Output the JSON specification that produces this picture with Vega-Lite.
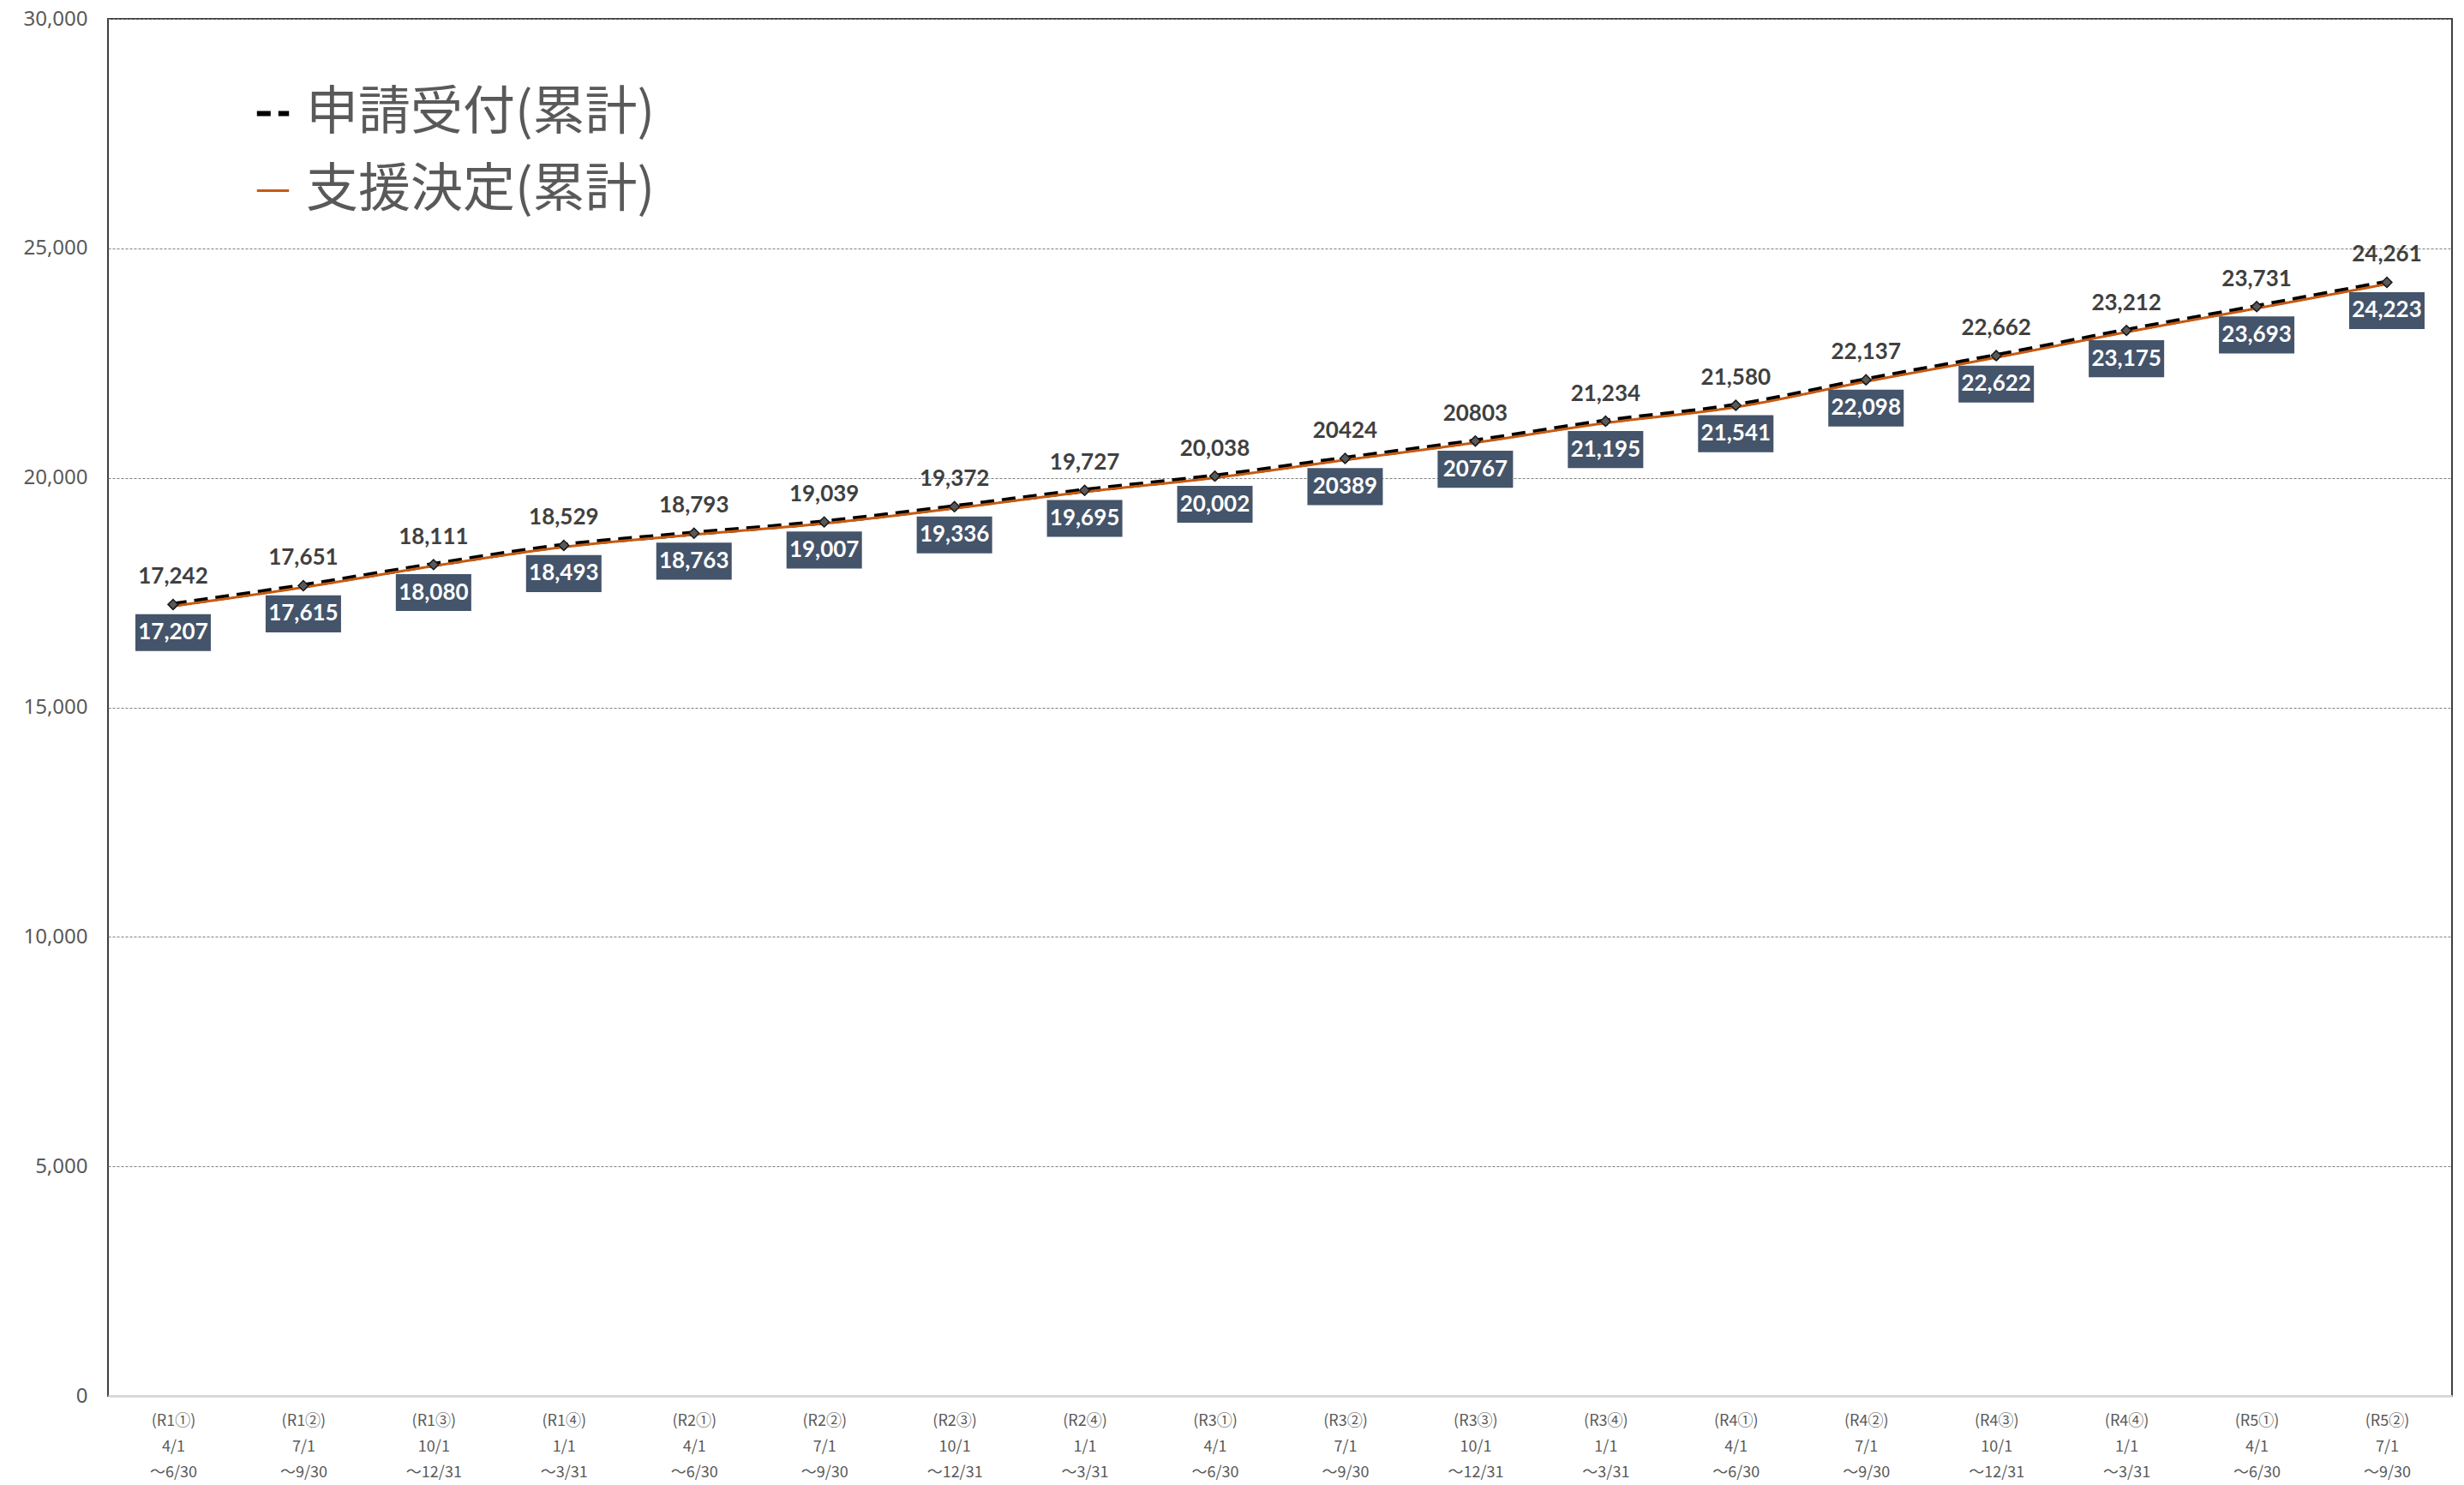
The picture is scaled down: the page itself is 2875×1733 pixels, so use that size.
{
  "$schema": "https://vega.github.io/schema/vega-lite/v6.json",
  "width": 2735,
  "height": 1607,
  "autosize": {"type": "none"},
  "padding": {"left": 126, "top": 22, "right": 14, "bottom": 104},
  "background": "white",
  "config": {
    "view": {"stroke": "#404040", "strokeWidth": 2},
    "font": "Noto Sans CJK JP"
  },
  "datasets": {
    "rows": [
      {"period": "(R1①)|4/1|～6/30", "series": "申請受付(累計)", "value": 17242, "label": "17,242"},
      {"period": "(R1②)|7/1|～9/30", "series": "申請受付(累計)", "value": 17651, "label": "17,651"},
      {"period": "(R1③)|10/1|～12/31", "series": "申請受付(累計)", "value": 18111, "label": "18,111"},
      {"period": "(R1④)|1/1|～3/31", "series": "申請受付(累計)", "value": 18529, "label": "18,529"},
      {"period": "(R2①)|4/1|～6/30", "series": "申請受付(累計)", "value": 18793, "label": "18,793"},
      {"period": "(R2②)|7/1|～9/30", "series": "申請受付(累計)", "value": 19039, "label": "19,039"},
      {"period": "(R2③)|10/1|～12/31", "series": "申請受付(累計)", "value": 19372, "label": "19,372"},
      {"period": "(R2④)|1/1|～3/31", "series": "申請受付(累計)", "value": 19727, "label": "19,727"},
      {"period": "(R3①)|4/1|～6/30", "series": "申請受付(累計)", "value": 20038, "label": "20,038"},
      {"period": "(R3②)|7/1|～9/30", "series": "申請受付(累計)", "value": 20424, "label": "20424"},
      {"period": "(R3③)|10/1|～12/31", "series": "申請受付(累計)", "value": 20803, "label": "20803"},
      {"period": "(R3④)|1/1|～3/31", "series": "申請受付(累計)", "value": 21234, "label": "21,234"},
      {"period": "(R4①)|4/1|～6/30", "series": "申請受付(累計)", "value": 21580, "label": "21,580"},
      {"period": "(R4②)|7/1|～9/30", "series": "申請受付(累計)", "value": 22137, "label": "22,137"},
      {"period": "(R4③)|10/1|～12/31", "series": "申請受付(累計)", "value": 22662, "label": "22,662"},
      {"period": "(R4④)|1/1|～3/31", "series": "申請受付(累計)", "value": 23212, "label": "23,212"},
      {"period": "(R5①)|4/1|～6/30", "series": "申請受付(累計)", "value": 23731, "label": "23,731"},
      {"period": "(R5②)|7/1|～9/30", "series": "申請受付(累計)", "value": 24261, "label": "24,261"},
      {"period": "(R1①)|4/1|～6/30", "series": "支援決定(累計)", "value": 17207, "label": "17,207"},
      {"period": "(R1②)|7/1|～9/30", "series": "支援決定(累計)", "value": 17615, "label": "17,615"},
      {"period": "(R1③)|10/1|～12/31", "series": "支援決定(累計)", "value": 18080, "label": "18,080"},
      {"period": "(R1④)|1/1|～3/31", "series": "支援決定(累計)", "value": 18493, "label": "18,493"},
      {"period": "(R2①)|4/1|～6/30", "series": "支援決定(累計)", "value": 18763, "label": "18,763"},
      {"period": "(R2②)|7/1|～9/30", "series": "支援決定(累計)", "value": 19007, "label": "19,007"},
      {"period": "(R2③)|10/1|～12/31", "series": "支援決定(累計)", "value": 19336, "label": "19,336"},
      {"period": "(R2④)|1/1|～3/31", "series": "支援決定(累計)", "value": 19695, "label": "19,695"},
      {"period": "(R3①)|4/1|～6/30", "series": "支援決定(累計)", "value": 20002, "label": "20,002"},
      {"period": "(R3②)|7/1|～9/30", "series": "支援決定(累計)", "value": 20389, "label": "20389"},
      {"period": "(R3③)|10/1|～12/31", "series": "支援決定(累計)", "value": 20767, "label": "20767"},
      {"period": "(R3④)|1/1|～3/31", "series": "支援決定(累計)", "value": 21195, "label": "21,195"},
      {"period": "(R4①)|4/1|～6/30", "series": "支援決定(累計)", "value": 21541, "label": "21,541"},
      {"period": "(R4②)|7/1|～9/30", "series": "支援決定(累計)", "value": 22098, "label": "22,098"},
      {"period": "(R4③)|10/1|～12/31", "series": "支援決定(累計)", "value": 22622, "label": "22,622"},
      {"period": "(R4④)|1/1|～3/31", "series": "支援決定(累計)", "value": 23175, "label": "23,175"},
      {"period": "(R5①)|4/1|～6/30", "series": "支援決定(累計)", "value": 23693, "label": "23,693"},
      {"period": "(R5②)|7/1|～9/30", "series": "支援決定(累計)", "value": 24223, "label": "24,223"}
    ]
  },
  "data": {"name": "rows"},
  "encoding": {
    "x": {
      "field": "period", "type": "ordinal", "sort": null,
      "scale": {"type": "point", "padding": 0.5},
      "axis": {
        "title": null, "labelAngle": 0, "ticks": false,
        "domainColor": "#d9d9d9", "domainWidth": 3,
        "labelExpr": "split(datum.value, '|')",
        "labelFont": "Noto Sans CJK JP", "labelFontSize": 18, "labelLineHeight": 30,
        "labelColor": "#595959", "labelBaseline": "top", "labelPadding": 20
      }
    },
    "y": {
      "field": "value", "type": "quantitative",
      "scale": {"domain": [0, 30000], "nice": false},
      "axis": {
        "title": null, "values": [0, 5000, 10000, 15000, 20000, 25000, 30000],
        "format": ",.0f", "ticks": false, "domain": false,
        "labelFont": "Noto Sans", "labelFontSize": 24, "labelColor": "#595959", "labelPadding": 24,
        "grid": true, "gridColor": "#7f7f7f", "gridDash": [3, 2], "gridWidth": 1
      }
    }
  },
  "layer": [
    {
      "transform": [{"filter": "datum.series === '申請受付(累計)'"}],
      "mark": {"type": "line", "interpolate": "monotone"},
      "encoding": {
        "color": {"field": "series", "type": "nominal",
          "scale": {"domain": ["申請受付(累計)", "支援決定(累計)"], "range": ["#000000", "#c65a11"]},
          "legend": {
            "title": null, "orient": "none", "legendX": 162, "legendY": 80,
            "symbolType": "stroke", "symbolSize": 1400, "labelFontSize": 61,
            "labelFont": "Noto Sans CJK JP", "labelColor": "#595959", "labelOffset": 8,
            "labelLimit": 0, "rowPadding": 28
          }},
        "strokeDash": {"field": "series", "type": "nominal",
          "scale": {"domain": ["申請受付(累計)", "支援決定(累計)"], "range": [[16, 9], [1, 0]]}},
        "strokeWidth": {"field": "series", "type": "nominal",
          "scale": {"domain": ["申請受付(累計)", "支援決定(累計)"], "range": [6, 3]}}
      }
    },
    {
      "transform": [{"filter": "datum.series === '支援決定(累計)'"}],
      "mark": {"type": "line", "interpolate": "monotone"},
      "encoding": {
        "color": {"field": "series", "type": "nominal"},
        "strokeDash": {"field": "series", "type": "nominal"},
        "strokeWidth": {"field": "series", "type": "nominal"}
      }
    },
    {
      "transform": [{"filter": "datum.series === '支援決定(累計)'"}],
      "mark": {"type": "point", "shape": "circle", "size": 40, "filled": true, "fill": "#595959", "stroke": "#262626", "strokeWidth": 1, "opacity": 1},
      "encoding": {}
    },
    {
      "transform": [{"filter": "datum.series === '申請受付(累計)'"}],
      "mark": {"type": "point", "shape": "diamond", "size": 140, "filled": true, "fill": "#595959", "stroke": "#1a1a1a", "strokeWidth": 1.5, "opacity": 1},
      "encoding": {}
    },
    {
      "transform": [{"filter": "datum.series === '申請受付(累計)'"}],
      "mark": {"type": "text", "font": "Lato", "fontWeight": "bold", "fontSize": 26, "color": "#404040", "dy": -32, "baseline": "middle"},
      "encoding": {"text": {"field": "label"}}
    },
    {
      "transform": [{"filter": "datum.series === '支援決定(累計)'"}],
      "mark": {"type": "point", "shape": "M-1,-0.49H1V0.49H-1Z", "size": 7744, "filled": true, "fill": "#44546a", "opacity": 1, "yOffset": 31},
      "encoding": {}
    },
    {
      "transform": [{"filter": "datum.series === '支援決定(累計)'"}],
      "mark": {"type": "text", "font": "Lato", "fontWeight": "bold", "fontSize": 26, "color": "#ffffff", "dy": 31, "baseline": "middle"},
      "encoding": {"text": {"field": "label"}}
    }
  ]
}
